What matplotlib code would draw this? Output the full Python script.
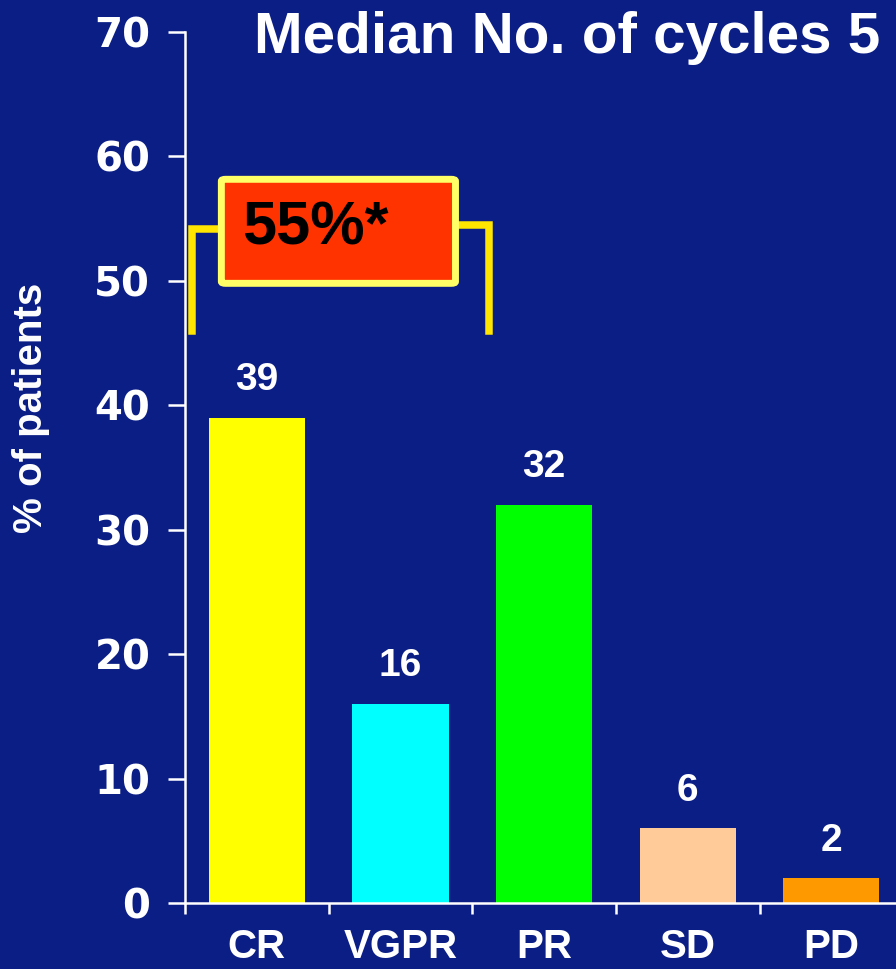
import matplotlib
matplotlib.use("Agg")
import matplotlib.pyplot as plt
from matplotlib.patches import FancyBboxPatch

# --- data ---
categories = ["CR", "VGPR", "PR", "SD", "PD"]
values = [39, 16, 32, 6, 2]
bar_colors = ["#FFFF00", "#00FFFF", "#00FF00", "#FFCC99", "#FF9900"]
y_ticks = [0, 10, 20, 30, 40, 50, 60, 70]
title_text = "Median No. of cycles 5"
ylabel_text = "% of patients"
bracket_text = "55%*"

BG = "#0B1E86"
WHITE = "white"
sans = ["Liberation Sans", "DejaVu Sans"]

fig = plt.figure(figsize=(8.96, 9.69), dpi=100)
fig.patch.set_facecolor(BG)
ax = fig.add_axes([0.2065, 0.0681, 0.7935, 0.8989])
ax.set_facecolor(BG)

x = list(range(len(categories)))
ax.bar(x, values, width=0.67, color=bar_colors, zorder=2)

ax.set_xlim(-0.5, 4.45)
ax.set_ylim(0, 70)

# spines / ticks
for s in ["top", "right"]:
    ax.spines[s].set_visible(False)
for s in ["left", "bottom"]:
    ax.spines[s].set_color(WHITE)
    ax.spines[s].set_linewidth(1.8)

ax.set_yticks(y_ticks)
ax.set_yticklabels([str(v) for v in y_ticks], fontsize=29, fontweight="bold",
                   color=WHITE, family="DejaVu Sans")
ax.tick_params(axis="y", direction="out", length=12, width=1.8, color=WHITE, pad=13)

# x ticks sit between the categories, labels are centred under bars
ax.set_xticks([i - 0.5 for i in x])
ax.set_xticklabels([])
ax.tick_params(axis="x", direction="out", length=8, width=1.8, color=WHITE)
for i, c in enumerate(categories):
    ax.text(i, -4.45, c, ha="center", va="baseline", fontsize=29, fontweight="bold",
            color=WHITE, family=sans, clip_on=False)

# value labels above bars
for i, v in enumerate(values):
    ax.annotate(str(v), (i, v), xytext=(0, 14), textcoords="offset points",
                ha="center", va="bottom", fontsize=28, fontweight="bold",
                color=WHITE, family=sans)

ax.set_ylabel(ylabel_text, fontsize=29, fontweight="bold", color=WHITE, family=sans)
ax.yaxis.set_label_coords(-0.19, 0.568)

fig.text(0.982, 0.961, title_text, ha="right", va="center", fontsize=42,
         fontweight="bold", color=WHITE, family=sans)

# yellow bracket spanning CR..PR with the red box on top
gold = "#FFE500"
ax.plot([-0.453, -0.453, -0.2], [45.98, 54.14, 54.14], color=gold, lw=5.4,
        solid_joinstyle="miter", zorder=3, clip_on=False)
ax.plot([1.35, 1.617, 1.617], [54.46, 54.46, 45.98], color=gold, lw=5.4,
        solid_joinstyle="miter", zorder=3, clip_on=False)
box = FancyBboxPatch((-0.247, 49.8), 1.63, 8.36,
                     boxstyle="round,pad=0,rounding_size=0.03",
                     facecolor="#FF3300", edgecolor="#FFFF66", lw=5,
                     mutation_aspect=5, zorder=4)
ax.add_patch(box)
ax.text(-0.1, 54.2, bracket_text, ha="left", va="center", fontsize=44,
        fontweight="bold", color="black", family=sans, zorder=5)

fig.savefig("out.png", dpi=100, facecolor=BG)
